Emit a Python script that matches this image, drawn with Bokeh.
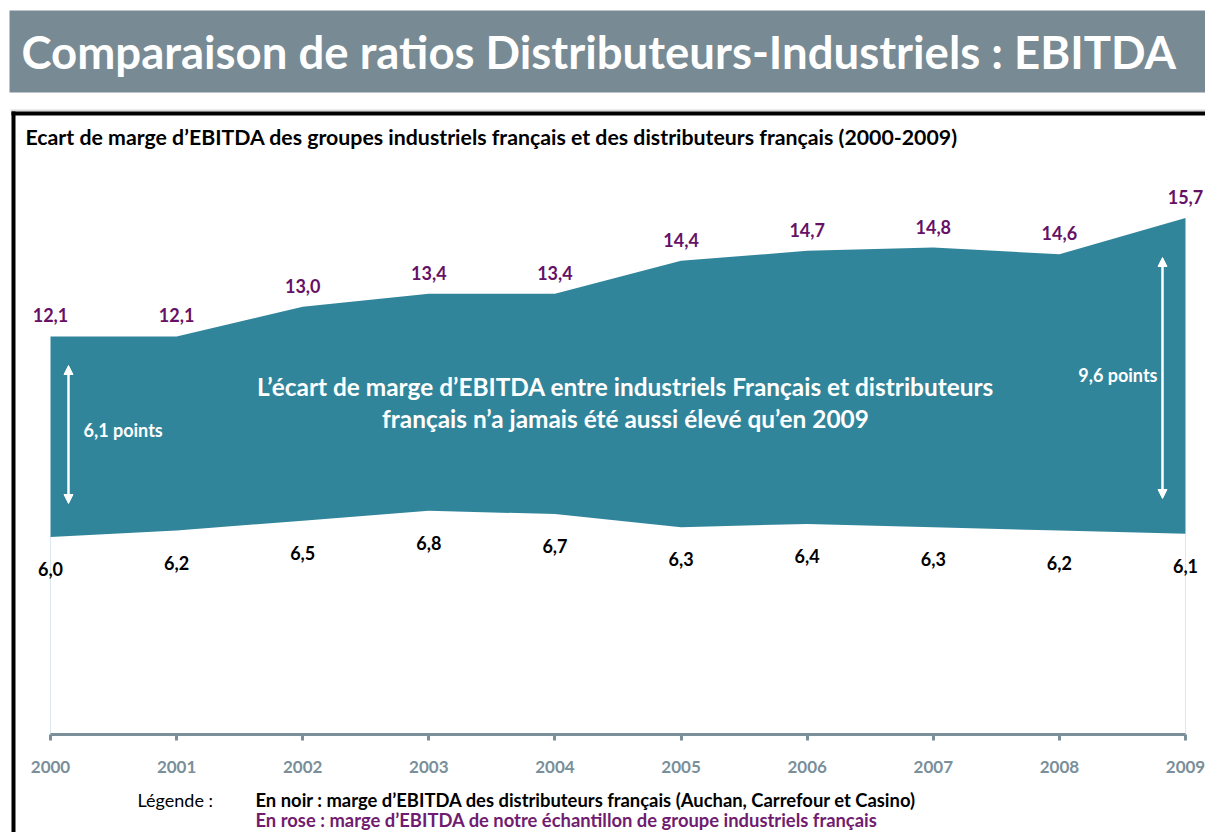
from bokeh.plotting import figure
from bokeh.models import (Label, BoxAnnotation, Arrow, NormalHead, LinearAxis,
                          FixedTicker, Range1d, ColumnDataSource)
from bokeh.core.properties import value
from bokeh.embed import file_html
from bokeh.resources import INLINE

# ---- data ----
years = [2000, 2001, 2002, 2003, 2004, 2005, 2006, 2007, 2008, 2009]
industriels = [12.1, 12.1, 13.0, 13.4, 13.4, 14.4, 14.7, 14.8, 14.6, 15.7]
distributeurs = [6.0, 6.2, 6.5, 6.8, 6.7, 6.3, 6.4, 6.3, 6.2, 6.1]
ind_labels = ["12,1", "12,1", "13,0", "13,4", "13,4", "14,4", "14,7", "14,8", "14,6", "15,7"]
dist_labels = ["6,0", "6,2", "6,5", "6,8", "6,7", "6,3", "6,4", "6,3", "6,2", "6,1"]
tick_labels = {y: str(y) for y in years}

title = "Comparaison de ratios Distributeurs-Industriels : EBITDA"
subtitle = "Ecart de marge d\u2019EBITDA des groupes industriels fran\u00e7ais et des distributeurs fran\u00e7ais (2000-2009)"
msg1 = "L\u2019\u00e9cart de marge d\u2019EBITDA entre industriels Fran\u00e7ais et distributeurs"
msg2 = "fran\u00e7ais n\u2019a jamais \u00e9t\u00e9 aussi \u00e9lev\u00e9 qu\u2019en 2009"
gap_start = "6,1 points"
gap_end = "9,6 points"
leg0 = "L\u00e9gende :"
leg1 = "En noir : marge d\u2019EBITDA des distributeurs fran\u00e7ais (Auchan, Carrefour et Casino)"
leg2 = "En rose : marge d\u2019EBITDA de notre \u00e9chantillon de groupe industriels fran\u00e7ais"

# ---- geometry (page pixels -> data) ----
W, H = 1205, 832
OFF = 0
X0, XS = 50.0, 126.11     # page x of 2000, px per year
Y0, YS = 734.0, 32.9      # page y of 0, px per unit


def dx(px):
    return 2000 + (px - X0) / XS


def dy(py):
    return (Y0 - py) / YS


FONT = "Lato"
GFONT = value("Lato")
TEAL = "#31859b"
PURPLE = "#661166"
GREY = "#7a8f99"

p = figure(width=W, height=H, output_backend="svg", toolbar_location=None,
           x_axis_type=None, y_axis_type=None, min_border=0,
           x_range=Range1d(dx(OFF), dx(OFF + W)), y_range=Range1d(dy(OFF + H), dy(OFF)))
p.outline_line_color = None
p.xgrid.visible = False
p.ygrid.visible = False
p.background_fill_color = "white"
p.border_fill_color = "white"

# banner
p.add_layout(BoxAnnotation(left=dx(9), right=dx(1210), top=dy(10), bottom=dy(92),
                           fill_color="#788b94", fill_alpha=1, line_color=None))
p.add_layout(Label(x=dx(21), y=dy(51), text=title, text_font=FONT, text_font_size="45.5px",
                   text_font_style="bold", text_color="white", text_baseline="middle"))

# frame box
p.add_layout(BoxAnnotation(left=dx(10), right=dx(1210), top=dy(109), bottom=dy(111),
                           fill_color="#d9d9d9", fill_alpha=1, line_color=None))
p.add_layout(BoxAnnotation(left=dx(11), right=dx(1210), top=dy(111), bottom=dy(115),
                           fill_color="black", fill_alpha=1, line_color=None))
p.add_layout(BoxAnnotation(left=dx(11), right=dx(15), top=dy(111), bottom=dy(840),
                           fill_color="black", fill_alpha=1, line_color=None))
p.add_layout(Label(x=dx(25), y=dy(136), text=subtitle, text_font=FONT, text_font_size="21.3px",
                   text_font_style="bold", text_color="black", text_baseline="middle"))

src = ColumnDataSource(dict(x=years, ind=industriels, dist=distributeurs,
                            il=ind_labels, dl=dist_labels))

# edges
p.segment(x0=[years[0], years[-1]], y0=[0, 0], x1=[years[0], years[-1]],
          y1=[distributeurs[0], distributeurs[-1]], line_color="#dbe8ee", line_width=1)

# area between the two series
p.varea(x="x", y1="dist", y2="ind", source=src, fill_color=TEAL)

# value labels
p.text(x="x", y="ind", text="il", source=src, text_font=GFONT, text_font_size="18px",
       text_font_style="bold", text_color=PURPLE, text_align="center",
       text_baseline="middle", y_offset=-21)
p.text(x="x", y="dist", text="dl", source=src, text_font=GFONT, text_font_size="18px",
       text_font_style="bold", text_color="black", text_align="center",
       text_baseline="middle", y_offset=32)

# axis
ax = LinearAxis(fixed_location=0, ticker=FixedTicker(ticks=years),
                major_label_overrides=tick_labels, bounds=(years[0], years[-1]))
ax.axis_line_color = GREY
ax.axis_line_width = 3
ax.major_tick_line_color = GREY
ax.major_tick_line_width = 3
ax.major_tick_out = 6
ax.major_tick_in = 0
ax.minor_tick_line_color = None
ax.major_label_text_font = "Lato"
ax.major_label_text_font_size = "17px"
ax.major_label_text_font_style = "bold"
ax.major_label_text_color = GREY
ax.major_label_standoff = 20
p.add_layout(ax, "below")

# central message
for t, yy in [(msg1, 386), (msg2, 418)]:
    p.add_layout(Label(x=dx(625), y=dy(yy), text=t, text_font=FONT, text_font_size="24.4px",
                       text_font_style="bold", text_color="white", text_align="center",
                       text_baseline="middle"))

# double arrows
for xa, ya, yb in [(68, 365, 503), (1162, 257, 498)]:
    p.add_layout(Arrow(x_start=dx(xa), y_start=dy(yb), x_end=dx(xa), y_end=dy(ya),
                       line_color="white", line_width=2.5,
                       start=NormalHead(size=9, fill_color="white", line_color="white"),
                       end=NormalHead(size=9, fill_color="white", line_color="white")))
p.add_layout(Label(x=dx(83), y=dy(429), text=gap_start, text_font=FONT, text_font_size="18px",
                   text_font_style="bold", text_color="white", text_baseline="middle"))
p.add_layout(Label(x=dx(1157), y=dy(374), text=gap_end, text_font=FONT, text_font_size="18px",
                   text_font_style="bold", text_color="white", text_baseline="middle",
                   text_align="right"))

# legend text
p.add_layout(Label(x=dx(137), y=dy(799), text=leg0, text_font=FONT, text_font_size="18px",
                   text_color="black", text_baseline="middle"))
p.add_layout(Label(x=dx(255), y=dy(799), text=leg1, text_font=FONT, text_font_size="18.4px",
                   text_font_style="bold", text_color="black", text_baseline="middle"))
p.add_layout(Label(x=dx(255), y=dy(819), text=leg2, text_font=FONT, text_font_size="18.4px",
                   text_font_style="bold", text_color="#701c70", text_baseline="middle"))

open("out.html", "w").write(file_html(p, INLINE))
